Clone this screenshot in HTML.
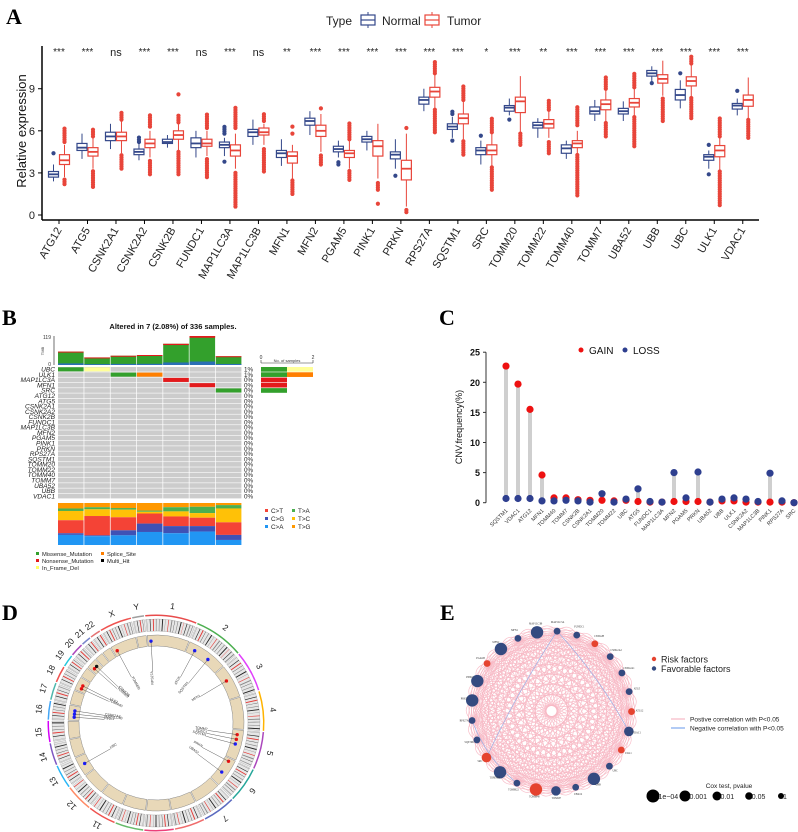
<!DOCTYPE html>
<html><head><meta charset="utf-8"><style>
html,body{margin:0;padding:0;background:#fff;}
svg{display:block;font-family:"Liberation Sans",sans-serif;}
.pl{font-family:"Liberation Serif",serif;font-weight:bold;font-size:22px;}
</style></head><body>
<svg id="fig" width="798" height="832" viewBox="0 0 798 832" xmlns="http://www.w3.org/2000/svg">
<text class="pl" x="6" y="24">A</text>
<text class="pl" x="2" y="325">B</text>
<text class="pl" x="439" y="325">C</text>
<text class="pl" x="2" y="620">D</text>
<text class="pl" x="440" y="620">E</text>
<g id="gA"></g>
<g id="gB"></g>
<g id="gC"></g>
<g id="gD"></g>
<g id="gE"></g>
</svg>
<script>
const NS="http://www.w3.org/2000/svg";
function mk(t,a,p){const e=document.createElementNS(NS,t);for(const k in a)e.setAttribute(k,a[k]);if(p)p.appendChild(e);return e;}
function tx(s,a,p){const e=mk('text',a,p);e.textContent=s;return e;}

// ================= Panel A data =================
const genesA=["ATG12","ATG5","CSNK2A1","CSNK2A2","CSNK2B","FUNDC1","MAP1LC3A","MAP1LC3B","MFN1","MFN2","PGAM5","PINK1","PRKN","RPS27A","SQSTM1","SRC","TOMM20","TOMM22","TOMM40","TOMM7","UBA52","UBB","UBC","ULK1","VDAC1"];
const sigA=["***","***","ns","***","***","ns","***","ns","**","***","***","***","***","***","***","*","***","**","***","***","***","***","***","***","***"];
// [whiskerLow,q1,median,q3,whiskerHigh]
const normalStats=[[2.4,2.7,2.9,3.1,3.6],[4.0,4.6,4.8,5.1,5.8],[4.7,5.3,5.6,5.9,6.5],[3.9,4.3,4.5,4.7,5.1],[4.8,5.1,5.2,5.4,5.7],[4.1,4.8,5.1,5.5,6.0],[4.2,4.8,5.0,5.2,5.5],[5.0,5.6,5.9,6.1,6.8],[3.5,4.1,4.4,4.6,5.4],[5.7,6.4,6.7,6.9,7.4],[4.1,4.5,4.7,4.9,5.3],[4.6,5.2,5.4,5.6,6.0],[3.3,4.0,4.3,4.5,5.4],[7.4,7.9,8.2,8.4,9.0],[5.5,6.1,6.3,6.5,7.0],[3.6,4.3,4.6,4.8,5.3],[7.1,7.4,7.65,7.8,8.3],[5.5,6.2,6.4,6.6,6.9],[4.0,4.4,4.75,5.0,5.3],[6.7,7.2,7.4,7.7,8.2],[6.7,7.2,7.4,7.6,8.1],[9.5,9.9,10.1,10.3,10.6],[7.6,8.2,8.55,8.95,9.6],[3.3,3.9,4.15,4.3,4.6],[7.1,7.55,7.8,7.95,8.3]];
const tumorStats=[[2.7,3.6,3.9,4.3,5.0],[3.3,4.2,4.5,4.8,5.5],[4.4,5.3,5.6,5.9,6.7],[4.1,4.8,5.1,5.4,6.0],[4.6,5.4,5.7,6.0,6.5],[4.2,4.9,5.1,5.4,6.0],[3.3,4.2,4.6,5.0,5.8],[5.0,5.7,5.9,6.2,6.5],[2.6,3.7,4.2,4.5,5.0],[4.5,5.6,6.0,6.4,7.2],[3.3,4.1,4.4,4.6,5.3],[2.6,4.2,4.9,5.3,6.5],[0.6,2.5,3.3,3.9,5.8],[7.6,8.4,8.8,9.1,10.0],[5.4,6.5,6.9,7.2,8.2],[3.5,4.3,4.6,5.0,5.8],[5.8,7.3,8.1,8.4,9.9],[5.5,6.2,6.5,6.8,7.5],[4.4,4.8,5.1,5.3,6.0],[6.7,7.5,7.9,8.2,9.0],[7.0,7.7,8.0,8.3,9.1],[8.5,9.4,9.7,10.0,11.0],[8.4,9.2,9.55,9.85,10.7],[3.2,4.15,4.6,4.95,5.5],[6.9,7.75,8.2,8.55,9.8]];
// outlier ranges [lo,hi]
const normalOut=[[[4.4,4.4]],[],[],[[5.2,5.6]],[],[],[[3.8,3.8],[5.8,6.3]],[],[],[],[[3.6,3.9]],[],[[2.8,2.8]],[],[[5.3,5.3],[7.2,7.4]],[[5.65,5.65]],[[6.8,6.8]],[],[],[],[],[[9.4,9.4]],[[10.1,10.1]],[[5.0,5.0],[2.9,2.9]],[[8.85,8.85]]];
const tumorOut=[[[2.2,2.6],[5.2,6.2]],[[2.0,3.2],[5.6,6.2]],[[3.3,4.3],[6.8,7.3]],[[2.9,4.0],[6.3,7.1]],[[2.9,4.5],[6.6,7.1],[8.6,8.6]],[[2.7,4.0],[6.2,7.3]],[[0.6,3.1],[6.2,7.7]],[[3.1,4.8],[6.7,7.2]],[[1.5,2.5],[5.8,5.8],[6.3,6.3]],[[3.6,4.3],[7.6,7.6]],[[2.5,3.2],[5.4,6.6]],[[0.8,0.8],[1.8,2.4]],[[0.2,0.5],[6.2,6.2]],[[5.9,7.5],[10.1,10.9]],[[4.3,5.3],[8.2,9.3]],[[1.8,3.4],[5.9,6.9]],[[5.0,5.8]],[[4.4,5.3],[7.5,8.2]],[[1.4,4.4],[6.4,7.7]],[[5.6,6.7],[9.0,9.9]],[[4.9,7.0],[9.1,10.2]],[[6.7,8.4]],[[6.9,8.4],[10.8,11.4]],[[0.7,3.1],[5.6,7.0]],[[5.5,6.8]]];
const yTicksA=[0,3,6,9];

(function(){
const g=document.getElementById('gA');
const yA=v=>215-v*14.03, xA=i=>59+i*28.49;
const NC="#34488a", TC="#e8453a";
let el;
el=mk('line',{x1:42,y1:46,x2:42,y2:220,stroke:'#000','stroke-width':1.5},g);


el=mk('line',{x1:42,y1:220,x2:759,y2:220,stroke:'#000','stroke-width':1.5},g);


yTicksA.forEach(t=>{
 mk('line',{x1:38,x2:42,y1:yA(t),y2:yA(t),stroke:'#000'},g);
 el=tx(String(t),{x:35,y:yA(t)+4,'text-anchor':'end','font-size':11,fill:'#222'},g);
 
 
});
el=tx('Relative expression',{x:0,y:0,transform:'translate(26,131) rotate(-90)','text-anchor':'middle','font-size':13,fill:'#111'},g);


function box(st,cx,col,outs,nm){
 const bg=mk('g',{},g);
 
 
 outs.forEach(r=>{for(let v=r[0];v<=r[1]+1e-6;v+=0.16)mk('circle',{cx:cx,cy:yA(v),r:2.1,fill:col},bg);});
 mk('line',{x1:cx,x2:cx,y1:yA(st[0]),y2:yA(st[1]),stroke:col,'stroke-width':1},bg);
 mk('line',{x1:cx,x2:cx,y1:yA(st[3]),y2:yA(st[4]),stroke:col,'stroke-width':1},bg);
 mk('rect',{x:cx-5,y:yA(st[3]),width:10,height:yA(st[1])-yA(st[3]),fill:'#fff',stroke:col,'stroke-width':1.2},bg);
 mk('line',{x1:cx-5,x2:cx+5,y1:yA(st[2]),y2:yA(st[2]),stroke:col,'stroke-width':1.8},bg);
}
genesA.forEach((gn,i)=>{
 const x=xA(i);
 mk('line',{x1:x,x2:x,y1:220,y2:224,stroke:'#000'},g);
 box(normalStats[i],x-5.5,NC,normalOut[i],'box-normal-'+gn.toLowerCase());
 box(tumorStats[i],x+5.5,TC,tumorOut[i],'box-tumor-'+gn.toLowerCase());
 el=tx(sigA[i],{x:x,y:sigA[i]=='ns'?56:55,'text-anchor':'middle','font-size':sigA[i]=='ns'?11:10,fill:'#222'},g);
 
 
 el=tx(gn,{x:0,y:0,transform:`translate(${x+3},${230}) rotate(-60)`,'text-anchor':'end','font-size':11,fill:'#222'},g);
 
 
});
// legend
const lg=mk('g',{},g);


tx('Type',{x:326,y:25,'font-size':12,fill:'#222'},lg);
[[361,NC,'Normal',382],[425,TC,'Tumor',447]].forEach(d=>{
 mk('line',{x1:d[0]+7,x2:d[0]+7,y1:12,y2:28,stroke:d[1]},lg);
 mk('rect',{x:d[0],y:15,width:14,height:10,fill:'#fff',stroke:d[1],'stroke-width':1.2},lg);
 mk('line',{x1:d[0],x2:d[0]+14,y1:20,y2:20,stroke:d[1],'stroke-width':1.2},lg);
 tx(d[2],{x:d[3],y:25,'font-size':12,fill:'#222'},lg);
});
})();

// ================= Panel B data =================
const genesB=["UBC","ULK1","MAP1LC3A","MFN1","SRC","ATG12","ATG5","CSNK2A1","CSNK2A2","CSNK2B","FUNDC1","MAP1LC3B","MFN2","PGAM5","PINK1","PRKN","RPS27A","SQSTM1","TOMM20","TOMM22","TOMM40","TOMM7","UBA52","UBB","VDAC1"];
const pctB=["1%","1%","0%","0%","0%","0%","0%","0%","0%","0%","0%","0%","0%","0%","0%","0%","0%","0%","0%","0%","0%","0%","0%","0%","0%"];
// mutation cells: [row, col, type]
const mutCells=[[0,0,"Missense"],[0,1,"InFrame"],[1,2,"Missense"],[1,3,"Splice"],[2,4,"Nonsense"],[3,5,"Nonsense"],[4,6,"Missense"]];
const tmbValues=[55,31,38,41,87,119,36];
const tiTvCats=["T>G","T>A","T>C","C>T","C>G","C>A"];
const tiTvFrac=[[0.13,0.06,0.22,0.31,0.04,0.24],[0.10,0.05,0.16,0.46,0.02,0.21],[0.12,0.04,0.18,0.31,0.12,0.23],[0.18,0.03,0.04,0.24,0.2,0.31],[0.1,0.1,0.12,0.23,0.17,0.28],[0.09,0.15,0.11,0.2,0.13,0.32],[0.05,0.08,0.33,0.3,0.12,0.12]];
const sideCounts=[["Missense","InFrame"],["Missense","Splice"],["Nonsense"],["Nonsense"],["Missense"]];

(function(){
const g=document.getElementById('gB');
const MC={Missense:'#33a02c',Nonsense:'#e31a1c',InFrame:'#ffff99',Splice:'#ff7f00',Multi:'#000'};
const TCc={"T>G":'#ff9800',"T>A":'#4caf50',"T>C":'#ffc107',"C>T":'#f44336',"C>G":'#3f51b5',"C>A":'#2196f3'};
const cx=c=>58+c*26.3, cw=25.6, ry=r=>367+r*5.28, rh=5.28;
let el;
el=tx('Altered in 7 (2.08%) of 336 samples.',{x:173,y:329,'text-anchor':'middle','font-size':7.5,'font-weight':'bold',fill:'#111'},g);


const yb=v=>365-v*29/119;
mk('line',{x1:54,x2:54,y1:336,y2:365,stroke:'#333','stroke-width':0.7},g);
tx('119',{x:51,y:339,'text-anchor':'end','font-size':5,fill:'#333'},g);
tx('0',{x:51,y:366,'text-anchor':'end','font-size':5,fill:'#333'},g);
tx('TMB',{x:0,y:0,transform:'translate(44,351) rotate(-90)','text-anchor':'middle','font-size':4,fill:'#333'},g);
tmbValues.forEach((v,c)=>{
 const b=mk('g',{},g);
 
 
 const top=yb(v),h=365-top;
 mk('rect',{x:cx(c),y:top,width:cw,height:h,fill:'#33a02c'},b);
 mk('rect',{x:cx(c),y:top,width:cw,height:Math.max(1,h*0.06),fill:'#e31a1c'},b);
 mk('rect',{x:cx(c),y:365-h*0.12,width:cw,height:h*0.12,fill:'#2b6fb5'},b);
});
genesB.forEach((gn,r)=>{
 for(let c=0;c<7;c++){
  mk('rect',{x:cx(c),y:ry(r),width:cw,height:rh-0.6,fill:'#cccccc'},g);
 }
 el=tx(gn,{x:55,y:ry(r)+4.6,'text-anchor':'end','font-size':6.6,'font-style':'italic',fill:'#222'},g);
 
 
 tx(pctB[r],{x:244,y:ry(r)+4.6,'font-size':6.3,fill:'#222'},g);
});
mutCells.forEach(m=>{
 el=mk('rect',{x:cx(m[1]),y:ry(m[0])+0.3,width:cw,height:rh-1.2,fill:MC[m[2]]},g);
 
 
});
mk('line',{x1:261,x2:313,y1:363,y2:363,stroke:'#333','stroke-width':0.6},g);
mk('line',{x1:261,x2:261,y1:360,y2:363,stroke:'#333','stroke-width':0.6},g);
mk('line',{x1:313,x2:313,y1:360,y2:363,stroke:'#333','stroke-width':0.6},g);
tx('0',{x:261,y:359,'text-anchor':'middle','font-size':5,fill:'#333'},g);
tx('2',{x:313,y:359,'text-anchor':'middle','font-size':5,fill:'#333'},g);
tx('No. of samples',{x:287,y:362,'text-anchor':'middle','font-size':4,fill:'#333'},g);
sideCounts.forEach((arr,r)=>{arr.forEach((t,k)=>{
 el=mk('rect',{x:261+k*26,y:ry(r),width:26,height:rh-0.6,fill:MC[t]},g);
 
 
});});
tiTvFrac.forEach((fr,c)=>{
 let y=503;
 fr.forEach((f,k)=>{
  el=mk('rect',{x:cx(c),y:y,width:cw,height:f*42,fill:TCc[tiTvCats[k]]},g);
  
  
  y+=f*42;
 });
});
const leg=[["C>T",265,513],["C>G",265,521],["C>A",265,529],["T>A",292,513],["T>C",292,521],["T>G",292,529]];
leg.forEach(l=>{
 mk('rect',{x:l[1],y:l[2]-4,width:3,height:3,fill:TCc[l[0]]},g);
 el=tx(l[0],{x:l[1]+6,y:l[2],'font-size':6.3,fill:'#222'},g);
 
 
});
const leg2=[["Missense_Mutation",36,556,'#33a02c'],["Splice_Site",101,556,'#ff7f00'],["Nonsense_Mutation",36,563,'#e31a1c'],["Multi_Hit",101,563,'#000'],["In_Frame_Del",36,570,'#ffff66']];
leg2.forEach(l=>{
 mk('rect',{x:l[1],y:l[2]-4,width:3,height:3,fill:l[3]},g);
 el=tx(l[0],{x:l[1]+6,y:l[2],'font-size':5.8,fill:'#222'},g);
 
 
});
})();

// ================= Panel C data =================
const genesC=["SQSTM1","VDAC1","ATG12","MFN1","TOMM40","TOMM7","CSNK2B","CSNK2A1","TOMM20","TOMM22","UBC","ATG5","FUNDC1","MAP1LC3A","MFN2","PGAM5","PRKN","UBA52","UBB","ULK1","CSNK2A2","MAP1LC3B","PINK1","RPS27A","SRC"];
const gainC=[22.7,19.7,15.5,4.6,0.8,0.8,0.5,0.4,0.4,0.3,0.4,0.2,0.1,0.1,0.2,0.2,0.2,0.1,0.3,0.3,0.1,0.1,0.1,0.1,0.0];
const lossC=[0.7,0.7,0.7,0.3,0.3,0.4,0.3,0.1,1.5,0.1,0.6,2.3,0.2,0.1,5.0,0.8,5.1,0.1,0.6,0.8,0.6,0.2,4.9,0.3,0.0];
const yTicksC=[0,5,10,15,20,25];

(function(){
const g=document.getElementById('gC');
const yC=v=>502.7-v*6.02, xC=i=>506+i*12.0;
let el;
el=mk('line',{x1:486,x2:486,y1:yC(25),y2:yC(0),stroke:'#333'},g);


yTicksC.forEach(t=>{
 mk('line',{x1:483,x2:486,y1:yC(t),y2:yC(t),stroke:'#333'},g);
 el=tx(String(t),{x:480,y:yC(t)+3.5,'text-anchor':'end','font-size':9,'font-weight':'bold',fill:'#111'},g);
 
 
});
el=tx('CNV.frequency(%)',{x:0,y:0,transform:'translate(462,427) rotate(-90)','text-anchor':'middle','font-size':9,fill:'#111'},g);


genesC.forEach((gn,i)=>{
 const x=xC(i),a=gainC[i],b=lossC[i];
 el=mk('line',{x1:x,x2:x,y1:yC(Math.max(a,b)),y2:yC(Math.min(a,b)),stroke:'#cfcfcf','stroke-width':4},g);
 
 
 el=mk('circle',{cx:x,cy:yC(a),r:3.6,fill:'#ee1111'},g);
 
 
 el=mk('circle',{cx:x,cy:yC(b),r:3.6,fill:'#2e3f8f'},g);
 
 
 el=tx(gn,{x:0,y:0,transform:`translate(${x+2},${511}) rotate(-45)`,'text-anchor':'end','font-size':5.5,fill:'#333'},g);
 
 
});
const lg=mk('g',{},g);


mk('circle',{cx:581,cy:350,r:2.5,fill:'#ee1111'},lg);
tx('GAIN',{x:589,y:354,'font-size':10,fill:'#111'},lg);
mk('circle',{cx:625,cy:350,r:2.5,fill:'#2e3f8f'},lg);
tx('LOSS',{x:633,y:354,'font-size':10,fill:'#111'},lg);
})();

// ================= Panel D (circos) =================
const chromNames=["1","2","3","4","5","6","7","8","9","10","11","12","13","14","15","16","17","18","19","20","21","22","X","Y"];
const chromSizes=[249,243,198,191,181,171,159,146,141,136,135,133,115,107,102,90,83,80,59,64,47,51,156,57];
const circMarks=[[2,50,'b','ATG5'],[2,150,'b','SQSTM1'],[3,80,'r','MFN1'],[5,30,'r','TOMM7'],[5,60,'r','VDAC1'],[5,90,'b','SQSTM1'],[6,20,'r','PRKN'],[6,100,'b','UBA52'],[13,60,'b','UBC'],[16,20,'b','PINK1'],[16,40,'b','MAP1LC3B'],[16,60,'b','CSNK2A2'],[18,20,'r','TOMM40'],[18,40,'r','ULK1'],[20,20,'r','TOMM22'],[20,40,'k','CSNK2B'],[22,80,'r','TOMM20'],[1,20,'b','RPS27A']];
(function(){
const g=document.getElementById('gD');
const C=[156,723];
const tot=chromSizes.reduce((a,b)=>a+b,0);
const gap=0.012;const span=2*Math.PI-gap*24;
const pt=(a,r)=>[C[0]+r*Math.sin(a),C[1]-r*Math.cos(a)];
function arc(a0,a1,r0,r1){const p0=pt(a0,r1),p1=pt(a1,r1),p2=pt(a1,r0),p3=pt(a0,r0);const lg=(a1-a0)>Math.PI?1:0;
return `M${p0}A${r1},${r1} 0 ${lg} 1 ${p1}L${p2}A${r0},${r0} 0 ${lg} 0 ${p3}Z`;}
const cols=['#e84c4c','#4caf50','#e040fb','#ffb300','#ab47bc','#26a69a','#5c6bc0','#ef6c6c','#ec407a','#66bb6a','#ef5350','#ff8a65','#29b6f6','#7e57c2','#d500f9','#42a5f5','#4db6ac','#ef5350','#26c6da','#ab47bc','#7986cb','#e57373','#ef5350','#9e9e9e'];
let a=-0.1;const starts=[];let el;
chromNames.forEach((nm,i)=>{
 const w=span*chromSizes[i]/tot;starts.push(a);
 const cg=mk('g',{},g);
 
 
 mk('path',{d:arc(a,a+w,107,108.5),fill:cols[i]},cg);
 mk('path',{d:arc(a,a+w,92,104),fill:'#e6e6e6',stroke:'#888','stroke-width':0.3},cg);
 const nb=Math.max(3,Math.round(chromSizes[i]/16));
 for(let k=0;k<nb;k++){const b0=a+w*(k+0.3)/nb;const bw=w*((k%3)+1)*0.1/nb;
  mk('path',{d:arc(b0,b0+bw,92,104),fill:(k%5==2)?'#e53935':(k%2?'#222':'#888')},cg);}
 mk('path',{d:arc(a,a+w,77,88),fill:'#e8d8b8',stroke:'#888','stroke-width':0.5},cg);
 const lp=pt(a+w/2,118);
 tx(nm,{x:lp[0],y:lp[1]+3,'text-anchor':'middle','font-size':8.5,fill:'#222',transform:`rotate(${(a+w/2)*180/Math.PI},${lp[0]},${lp[1]})`},cg);
 a+=w+gap;
});
const MCOL={b:'#1a1aff',r:'#ee1111',k:'#111'};
circMarks.forEach(m=>{
 const i=m[0]-1;const w=span*chromSizes[i]/tot;const an=starts[i]+w*m[1]/chromSizes[i];
 const p=pt(an,82),q=pt(an,72),q2=pt(an,52);
 el=mk('circle',{cx:p[0],cy:p[1],r:1.7,fill:MCOL[m[2]]},g);
 
 
 mk('polyline',{points:`${p} ${q} ${q2}`,fill:'none',stroke:'#333','stroke-width':0.4},g);
 let deg=an*180/Math.PI-90;let anchor='end';
 if(an>Math.PI&&an<2*Math.PI){deg+=180;anchor='start';}
 tx(m[3],{x:q2[0],y:q2[1],'font-size':3.5,fill:'#333','text-anchor':anchor,transform:`rotate(${deg},${q2[0]},${q2[1]})`},g);
});
})();

// ================= Panel E data =================
const genesE=["MAP1LC3A","FUNDC1","CSNK2B","CSNK2A2","CSNK2A1","ATG5","ATG12","VDAC1","ULK1","UBC","UBB","UBA52","TOMM7","TOMM40","TOMM22","TOMM20","SRC","SQSTM1","RPS27A","PRKN","PINK1","PGAM5","MFN2","MFN1","MAP1LC3B"];
const riskE=[0,0,1,0,0,0,1,0,1,0,0,0,0,1,0,0,1,0,0,0,0,1,0,0,0];
const coxPE=[0.05,0.05,0.05,0.05,0.05,0.05,0.05,0.01,0.05,0.05,0.001,0.05,0.01,0.001,0.05,0.001,0.01,0.05,0.05,0.001,0.001,0.05,0.001,0.05,0.001];
const negEdges=[[0,7],[18,14],[0,16]];
(function(){
const g=document.getElementById('gE');
const C=[551.5,711],R=80;
const size=p=>p<=0.001?6.2:p<=0.01?4.8:p<=0.05?3.4:2.5;
const pos=i=>{const a=(4+i*14.4)*Math.PI/180;return [C[0]+R*Math.sin(a),C[1]-R*Math.cos(a)];};
let el;
const eg=mk('g',{},g);


for(let i=0;i<genesE.length;i++)for(let j=i+1;j<genesE.length;j++){
 const p=pos(i),q=pos(j);
 const mx=(p[0]+q[0])/2,my=(p[1]+q[1])/2;const cxq=mx+(C[0]-mx)*-0.15,cyq=my+(C[1]-my)*-0.15;
 mk('path',{d:`M${p}Q${cxq},${cyq} ${q}`,fill:'none',stroke:'#f7b8c4','stroke-width':0.7,opacity:0.9},eg);
}
negEdges.forEach(e=>{const p=pos(e[0]),q=pos(e[1]);
 const mx=(p[0]+q[0])/2,my=(p[1]+q[1])/2;const cxq=mx+(C[0]-mx)*-0.15,cyq=my+(C[1]-my)*-0.15;
 el=mk('path',{d:`M${p}Q${cxq},${cyq} ${q}`,fill:'none',stroke:'#8fb2ee','stroke-width':0.6},g);
 
 
});
mk('circle',{cx:C[0],cy:C[1],r:4,fill:'#fff'},g);
genesE.forEach((gn,i)=>{
 const p=pos(i);
 el=mk('circle',{cx:p[0],cy:p[1],r:size(coxPE[i]),fill:riskE[i]?'#e5432f':'#344a80'},g);
 
 
 const lp=[C[0]+(p[0]-C[0])*1.1,C[1]+(p[1]-C[1])*1.1];
 tx(gn,{x:lp[0],y:lp[1],'text-anchor':'middle','font-size':2.6,'font-family':'Liberation Serif,serif',fill:'#333'},g);
});
let lg=mk('g',{},g);


mk('circle',{cx:654,cy:659,r:2.2,fill:'#e5432f'},lg);
tx('Risk factors',{x:661,y:662.5,'font-size':9,fill:'#222'},lg);
mk('circle',{cx:654,cy:668.5,r:2.2,fill:'#344a80'},lg);
tx('Favorable factors',{x:661,y:672,'font-size':9,fill:'#222'},lg);
lg=mk('g',{},g);


mk('line',{x1:671,x2:685,y1:719,y2:719,stroke:'#f7b8c4','stroke-width':1.2},lg);
tx('Postive correlation with P<0.05',{x:690,y:721.5,'font-size':6.5,fill:'#222'},lg);
mk('line',{x1:671,x2:685,y1:728,y2:728,stroke:'#7fa8ee','stroke-width':1.2},lg);
tx('Negative correlation with P<0.05',{x:690,y:730.5,'font-size':6.5,fill:'#222'},lg);
lg=mk('g',{},g);


tx('Cox test, pvalue',{x:729,y:788,'text-anchor':'middle','font-size':6.5,fill:'#222'},lg);
[[653,6.5,'1e\u221204'],[685,5.5,'0.001'],[717,4.5,'0.01'],[749,3.8,'0.05'],[781,3,'1']].forEach(d=>{
 mk('circle',{cx:d[0],cy:796,r:d[1],fill:'#000'},lg);
 tx(d[2],{x:d[0]+d[1]-1,y:799,'font-size':7,fill:'#222'},lg);
});
})();
</script>
</body></html>
